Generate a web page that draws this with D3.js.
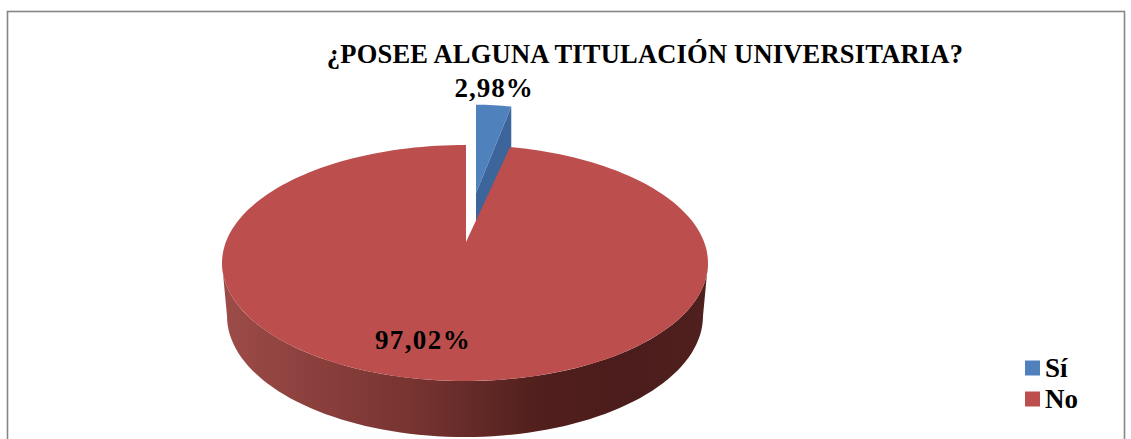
<!DOCTYPE html>
<html><head><meta charset="utf-8">
<style>html,body{margin:0;padding:0;background:#fff}svg{display:block}text{font-family:"Liberation Serif",serif;font-weight:bold;fill:#000}</style>
<script src="https://cdn.jsdelivr.net/npm/d3@7"></script></head><body>
<script>
const categories = ["Sí", "No"];
const values = [2.98, 97.02];
const labels = ["2,98%", "97,02%"];
const titleText = "¿POSEE ALGUNA TITULACIÓN UNIVERSITARIA?";
const colors = ["#4f81bd", "#bc4f4d"];

const W = 1131, H = 439;
const svg = d3.select("body").append("svg").attr("width", W).attr("height", H);
const defs = svg.append("defs");
const grad = defs.append("linearGradient").attr("id", "side").attr("gradientUnits", "userSpaceOnUse")
  .attr("x1", 225).attr("x2", 705).attr("y1", 0).attr("y2", 0);
[[0,"#9c4b48"],[0.2,"#8a3f3c"],[0.42,"#73322f"],[0.65,"#511f1d"],[0.85,"#4a1c1b"],[1,"#4f201e"]]
  .forEach(s => grad.append("stop").attr("offset", s[0]).attr("stop-color", s[1]));

svg.append("rect").attr("x", 7.5).attr("y", 11.5).attr("width", 1117).attr("height", 440)
  .attr("fill", "#fff").attr("stroke", "#868686").attr("stroke-width", 1.6);

const top_ = {cx: 465, cy: 263, rx: 243, ry: 118};
const low = {cx: 465, cy: 316, rx: 238, ry: 121};
const apex = {x: 466, y: 242};
const aspect = 2.45;

const pie = d3.pie().sort(null).value(d => d);
const arcs = pie(values);

// ray from the apex at pie angle t, meeting the top ellipse
function rim(t) {
  const dx = Math.sin(t) * aspect, dy = -Math.cos(t);
  const ox = (apex.x - top_.cx) / top_.rx, oy = (apex.y - top_.cy) / top_.ry;
  const a = (dx / top_.rx) ** 2 + (dy / top_.ry) ** 2;
  const b = 2 * (ox * dx / top_.rx + oy * dy / top_.ry);
  const c = ox * ox + oy * oy - 1;
  const s = (-b + Math.sqrt(b * b - 4 * a * c)) / (2 * a);
  return [apex.x + dx * s, apex.y + dy * s];
}
const ellipsePts = (e, a0, a1, n) => d3.range(n + 1).map(i => {
  const a = a0 + (a1 - a0) * i / n;
  return [e.cx + e.rx * Math.cos(a), e.cy + e.ry * Math.sin(a)];
});
const line = d3.line();

// exploded small slice
const sl = arcs[0];
const bApex = [476, 193], bScale = [0.8, 0.91], depth = 55;
const rimB = t => { const p = rim(t); return [bApex[0] + (p[0] - apex.x) * bScale[0], bApex[1] + (p[1] - apex.y) * bScale[1]]; };
const bPts = d3.range(9).map(i => rimB(sl.startAngle + (sl.endAngle - sl.startAngle) * i / 8));
const last = bPts[bPts.length - 1];
svg.append("path").attr("d", line([bApex, last, [last[0], last[1] + depth], [bApex[0], bApex[1] + depth]]) + "Z").attr("fill", "#3b659b");
svg.append("path").attr("d", line([bApex, ...bPts]) + "Z").attr("fill", colors[0]);

// side wall of the big slice
const upper = ellipsePts(top_, 0, Math.PI, 80);
const lower = ellipsePts(low, Math.PI, 0, 80);
svg.append("path").attr("d", line([...upper, ...lower]) + "Z").attr("fill", "url(#side)");

// top face of the big slice
const big = arcs[1];
const pS = rim(big.startAngle), pE = rim(big.endAngle);
const angOf = p => Math.atan2((p[1] - top_.cy) / top_.ry, (p[0] - top_.cx) / top_.rx);
let a0 = angOf(pS), a1 = angOf(pE);
if (a1 < a0) a1 += 2 * Math.PI;
svg.append("path").attr("d", line([[apex.x, apex.y], ...ellipsePts(top_, a0, a1, 200)]) + "Z").attr("fill", colors[1]);

// labels
svg.append("text").attr("x", 645).attr("y", 63).attr("text-anchor", "middle").attr("font-size", 26.5).attr("letter-spacing", 0.2).text(titleText);
svg.append("text").attr("x", 494).attr("y", 97).attr("text-anchor", "middle").attr("font-size", 27).attr("letter-spacing", 1).text(labels[0]);
svg.append("text").attr("x", 423).attr("y", 349).attr("text-anchor", "middle").attr("font-size", 27).attr("letter-spacing", 1.4).text(labels[1]);

// legend
const legY = d3.scalePoint().domain(categories).range([368, 399]);
categories.forEach((c, i) => {
  svg.append("rect").attr("x", 1025).attr("y", legY(c) - 7.5).attr("width", 15).attr("height", 15).attr("fill", colors[i]);
  svg.append("text").attr("x", 1045).attr("y", legY(c) + 9).attr("font-size", 27).text(c);
});
</script></body></html>
